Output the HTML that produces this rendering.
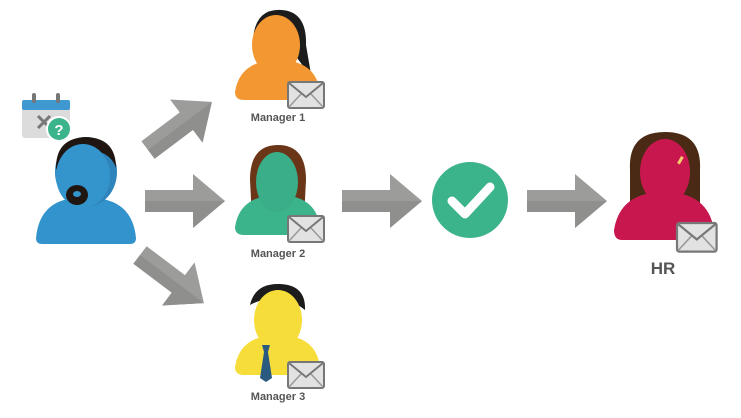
<!DOCTYPE html>
<html><head><style>
html,body{margin:0;padding:0;background:#fff;}
svg{display:block;}
text{font-family:"Liberation Sans",sans-serif;fill:#555;font-weight:bold;}
</style></head><body>
<svg width="741" height="418" viewBox="0 0 741 418" xmlns="http://www.w3.org/2000/svg">
<defs>
  <g id="arr">
    <path d="M0,-11 L48,-11 L48,-27 L80,0 L48,27 L48,11 L0,11 Z" fill="#9c9d9b"/>
    <path d="M0,0 L80,0 L48,27 L48,11 L0,11 Z" fill="#8f908e"/>
  </g>
  <g id="env">
    <rect x="0" y="0" width="36" height="26" rx="2" fill="#e2e2e2" stroke="#777" stroke-width="2"/>
    <path d="M1,1 L18,15 L35,1" fill="none" stroke="#777" stroke-width="2"/>
    <path d="M1,25 L13,12 M35,25 L23,12" fill="none" stroke="#999" stroke-width="1.5"/>
  </g>
</defs>

<!-- arrows -->
<use href="#arr" transform="translate(145,201)"/>
<use href="#arr" transform="translate(342,201)"/>
<use href="#arr" transform="translate(527,201)"/>
<use href="#arr" transform="translate(148,150) rotate(-37)"/>
<use href="#arr" transform="translate(140,255) rotate(37)"/>

<!-- calendar -->
<rect x="22" y="100" width="48" height="38" rx="3" fill="#dcdcdc"/>
<rect x="22" y="100" width="48" height="10" rx="2" fill="#3f98d0"/>
<rect x="32" y="93" width="4" height="10" rx="2" fill="#777"/>
<rect x="56" y="93" width="4" height="10" rx="2" fill="#777"/>
<path d="M38,116 L50,128 M50,116 L38,128" stroke="#777" stroke-width="3"/>
<circle cx="59" cy="129" r="13" fill="#fff"/>
<circle cx="59" cy="129" r="11" fill="#3bb38b"/>
<text x="59" y="135" font-size="15" text-anchor="middle" style="fill:#fff">?</text>

<!-- blue person -->
<path d="M36,238 Q40,196 85,198 Q132,196 136,238 Q136,244 130,244 L42,244 Q36,244 36,238 Z" fill="#3393cc"/>
<ellipse cx="86" cy="172" rx="31" ry="35" fill="#2f85bb"/>
<path d="M56,170 Q55,138 86,137 Q116,138 116,168 Q110,150 86,150 Q62,152 56,170 Z" fill="#1f1612"/>
<ellipse cx="83" cy="176" rx="27" ry="32" fill="#3495cd"/>
<ellipse cx="77" cy="195" rx="11" ry="10" fill="#1f1612"/>
<ellipse cx="77" cy="194" rx="4" ry="3" fill="#3495cd"/>

<!-- manager 1 -->
<path d="M253,40 Q255,8 282,10 Q307,12 306,45 L312,80 Q300,60 290,50 Z" fill="#1c1c1c"/>
<path d="M235,92 Q240,60 278,60 Q316,60 320,92 Q320,100 312,100 L244,100 Q235,100 235,92 Z" fill="#f39733"/>
<ellipse cx="276" cy="45" rx="24" ry="30" fill="#f39733"/>
<use href="#env" transform="translate(288,82)"/>
<text x="278" y="121" font-size="11" text-anchor="middle">Manager 1</text>

<!-- manager 2 -->
<path d="M250,180 Q250,145 278,145 Q306,145 306,180 L304,218 L252,218 Z" fill="#6b3518"/>
<path d="M235,227 Q240,195 278,195 Q316,195 320,227 Q320,235 312,235 L244,235 Q235,235 235,227 Z" fill="#3bb38b"/>
<ellipse cx="277" cy="182" rx="21" ry="30" fill="#39ae89"/>
<use href="#env" transform="translate(288,216)"/>
<text x="278" y="257" font-size="11" text-anchor="middle">Manager 2</text>

<!-- manager 3 -->
<path d="M250,305 Q255,283 280,284 Q306,285 305,310 Q290,298 278,300 Q262,298 250,305 Z" fill="#1c1c1c"/>
<path d="M235,367 Q240,335 278,335 Q316,335 320,367 Q320,375 312,375 L244,375 Q235,375 235,367 Z" fill="#f6dd3a"/>
<ellipse cx="278" cy="320" rx="24" ry="30" fill="#f6dd3a"/>
<path d="M262,345 L270,345 L268,352 L272,378 L266,382 L260,378 L264,352 Z" fill="#2a5a80"/>
<use href="#env" transform="translate(288,362)"/>
<text x="278" y="400" font-size="11" text-anchor="middle">Manager 3</text>

<!-- check -->
<circle cx="470" cy="200" r="38" fill="#3bb38b"/>
<path d="M452,201 L465,214 L490,187" fill="none" stroke="#fff" stroke-width="9" stroke-linecap="round" stroke-linejoin="round"/>

<!-- HR -->
<path d="M630,170 Q628,132 665,132 Q702,132 700,170 L700,222 L630,222 Z" fill="#4a2a14"/>
<path d="M614,230 Q620,192 664,192 Q708,192 714,230 Q714,240 706,240 L622,240 Q614,240 614,230 Z" fill="#c8174f"/>
<ellipse cx="665" cy="172" rx="25" ry="33" fill="#c8174f"/>
<rect x="679" y="156" width="3" height="8" fill="#f5d06a" transform="rotate(30 680 160)"/>
<use href="#env" transform="translate(677,223) scale(1.1)"/>
<text x="663" y="274" font-size="17" text-anchor="middle">HR</text>
</svg>
</body></html>
